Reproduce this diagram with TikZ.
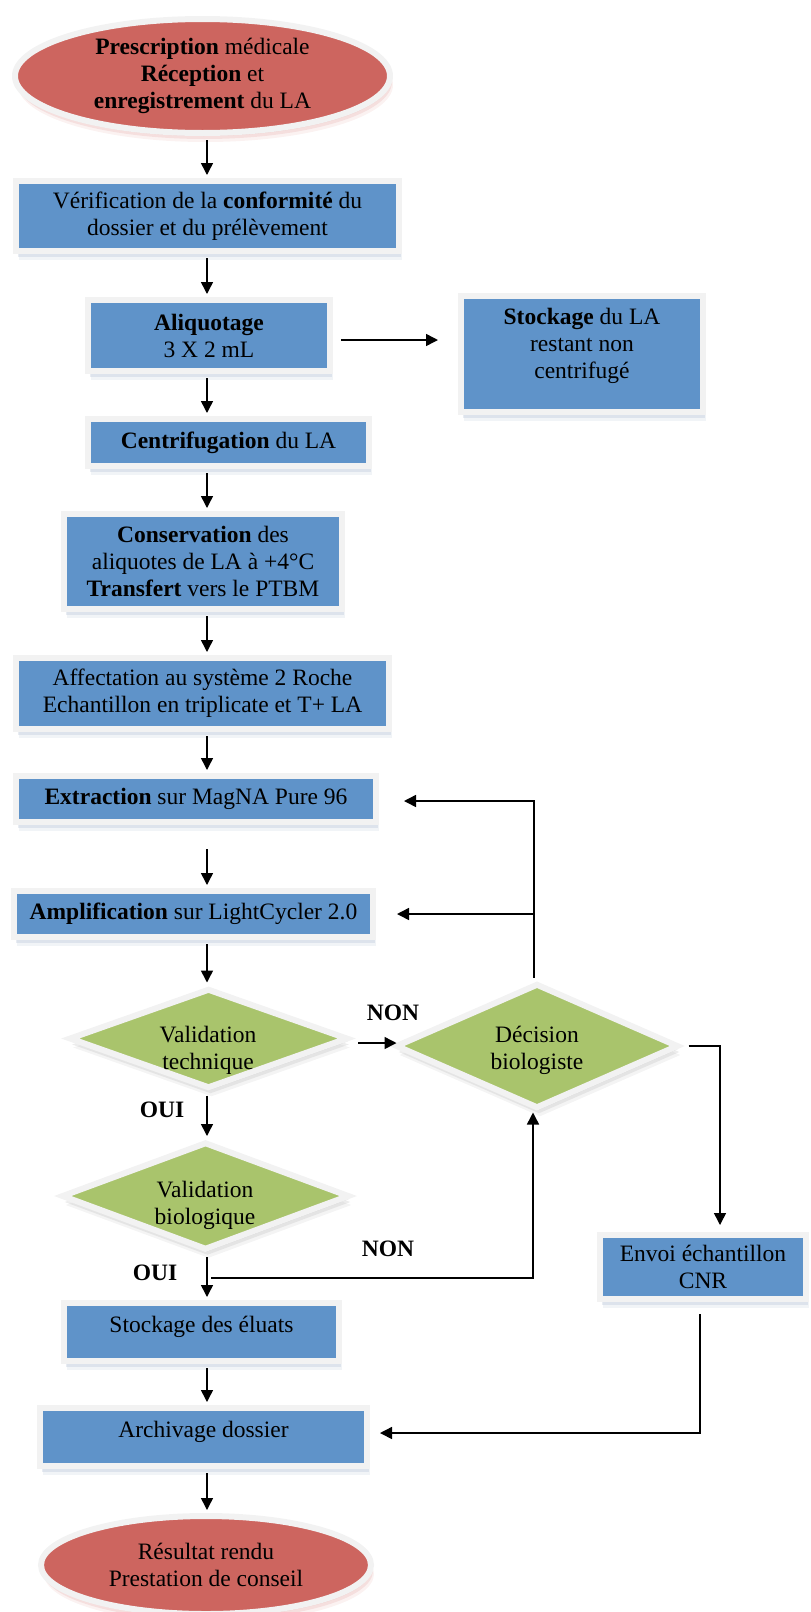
\documentclass[tikz,border=0pt]{standalone}
\usepackage{fontspec}
\setmainfont{Liberation Serif}
\usetikzlibrary{arrows.meta,positioning,calc,shapes.geometric,shadows}
\definecolor{BoxBlue}{HTML}{5F93C9}
\definecolor{EndRed}{HTML}{CD655F}
\definecolor{TestGreen}{HTML}{A9C46C}
\definecolor{Rim}{HTML}{F2F2F2}
\definecolor{ShadeBlue}{HTML}{8DA2C0}

\begin{document}
\begin{tikzpicture}[x=1pt, y=-1pt, font=\fontsize{23.5pt}{27pt}\selectfont, >={Triangle[length=12pt,width=12pt]}]
\tikzset{rimmed/.style={draw=Rim, line width=6pt, align=center, inner sep=0pt},
 soft/.style={drop shadow={shadow xshift=3pt, shadow yshift=-9pt, fill=#1, opacity=.12}, drop shadow={shadow xshift=2pt, shadow yshift=-6pt, fill=#1, opacity=.2}, drop shadow={shadow xshift=1pt, shadow yshift=-3pt, fill=#1, opacity=.25}},
 b/.style={rimmed, fill=BoxBlue, soft=ShadeBlue},
 startend/.style={rimmed, ellipse, fill=EndRed, soft=EndRed!70},
 decision/.style={rimmed, diamond, fill=TestGreen, soft=gray!70},
 lbl/.style={font=\fontsize{23.5pt}{27pt}\selectfont\bfseries},
 arr/.style={->, line width=1.5pt, shorten <=4pt, shorten >=3pt}}
\useasboundingbox (0,0) rectangle (811,1612);
% main column
\node[startend, minimum width=375pt, minimum height=114pt] (presc) at (202.5,76) {\textbf{Prescription} médicale\\\textbf{Réception} et\\\textbf{enregistrement} du LA};
\node[b, minimum width=383pt, minimum height=70pt] (verif) at (207.5,216) {Vérification de la \textbf{conformité} du\\dossier et du prélèvement};
\node[b, minimum width=242pt, minimum height=71pt] (aliq) at (209,335.5) {\textbf{Aliquotage}\\3 X 2 mL};
\node[b, minimum width=242pt, minimum height=116pt, text depth=21pt] (stockLA) at (582,354) {\textbf{Stockage} du LA\\restant non\\centrifugé};
\node[b, minimum width=281pt, minimum height=47pt] (centrif) at (228.5,442.5) {\textbf{Centrifugation} du LA};
\node[b, minimum width=278pt, minimum height=95pt] (conserv) at (203,561.5) {\textbf{Conservation} des\\aliquotes de LA à +4°C\\\textbf{Transfert} vers le PTBM};
\node[b, minimum width=373pt, minimum height=71pt] (affect) at (202.5,693.5) {Affectation au système 2 Roche\\Echantillon en triplicate et T+ LA};
\node[b, minimum width=360pt, minimum height=46pt] (extr) at (196,799) {\textbf{Extraction} sur MagNA Pure 96};
\node[b, minimum width=359pt, minimum height=46pt] (ampli) at (193.5,914) {\textbf{Amplification} sur LightCycler 2.0};
% decisions
\node[decision, minimum width=279pt, minimum height=100pt] (vt) at (208.5,1038.5) {};
\node[decision, minimum width=283pt, minimum height=125pt] (db) at (537,1046) {};
\node[decision, minimum width=288pt, minimum height=108pt] (vb) at (205.5,1196) {};
\node[align=center] (vtText) at (208,1050) {Validation\\technique};
\node[align=center] (dbText) at (537,1050) {Décision\\biologiste};
\node[align=center] (vbText) at (205,1205) {Validation\\biologique};
\node[b, minimum width=206pt, minimum height=64pt] (envoi) at (703,1267) {Envoi échantillon\\CNR};
\node[b, minimum width=275pt, minimum height=58pt, text depth=16pt] (stockElu) at (201.5,1332) {Stockage des éluats};
\node[b, minimum width=327pt, minimum height=58pt, text depth=16pt] (archiv) at (203.5,1437) {Archivage dossier};
\node[startend, minimum width=330pt, minimum height=98pt] (result) at (206,1565) {Résultat rendu\\Prestation de conseil};
% answers
\node[lbl] (nonA) at (393,1013) {NON};
\node[lbl] (ouiA) at (162,1110) {OUI};
\node[lbl] (nonB) at (388,1249) {NON};
\node[lbl] (ouiB) at (155,1273) {OUI};
% connectors
\coordinate (axis) at (207,0);
\foreach \a/\b in {presc/verif,verif/aliq,aliq/centrif,centrif/conserv,conserv/affect,affect/extr,ampli/vt,vt/vb,vb/stockElu,stockElu/archiv,archiv/result}
  \draw[arr] (axis |- \a.south) -- (axis |- \b.north);
\draw[arr, shorten <=24pt] (axis |- extr.south) -- (axis |- ampli.north);
\coordinate (aliqOut) at ([yshift=-4.5pt]aliq.east);
\draw[arr, shorten <=8pt, shorten >=20pt] (aliqOut) -- (aliqOut -| stockLA.west);
\coordinate (vtOut) at ([yshift=-4.5pt]vt.east);
\draw[arr, shorten <=7pt, shorten >=-4pt] (vtOut) -- (vtOut -| db.west);
\coordinate (dbTop) at ([xshift=-3pt]db.north);
\draw[arr, shorten <=3pt, shorten >=25pt] (dbTop) |- ([yshift=-2pt]extr.east);
\draw[arr, shorten <=0pt, shorten >=21pt] (dbTop |- ampli.east) -- (ampli.east);
\draw[arr, shorten <=7pt, shorten >=7pt] (db.east) -| ([xshift=17pt]envoi.north);
\coordinate (split) at ($(axis |- vb.south)+(4,25)$);
\draw[arr, shorten <=0pt, shorten >=1pt] (split) -| ([xshift=-4pt]db.south);
\draw[arr, shorten <=12pt, shorten >=10pt] ([xshift=-3pt]envoi.south) |- ([yshift=4pt]archiv.east);
\end{tikzpicture}
\end{document}
